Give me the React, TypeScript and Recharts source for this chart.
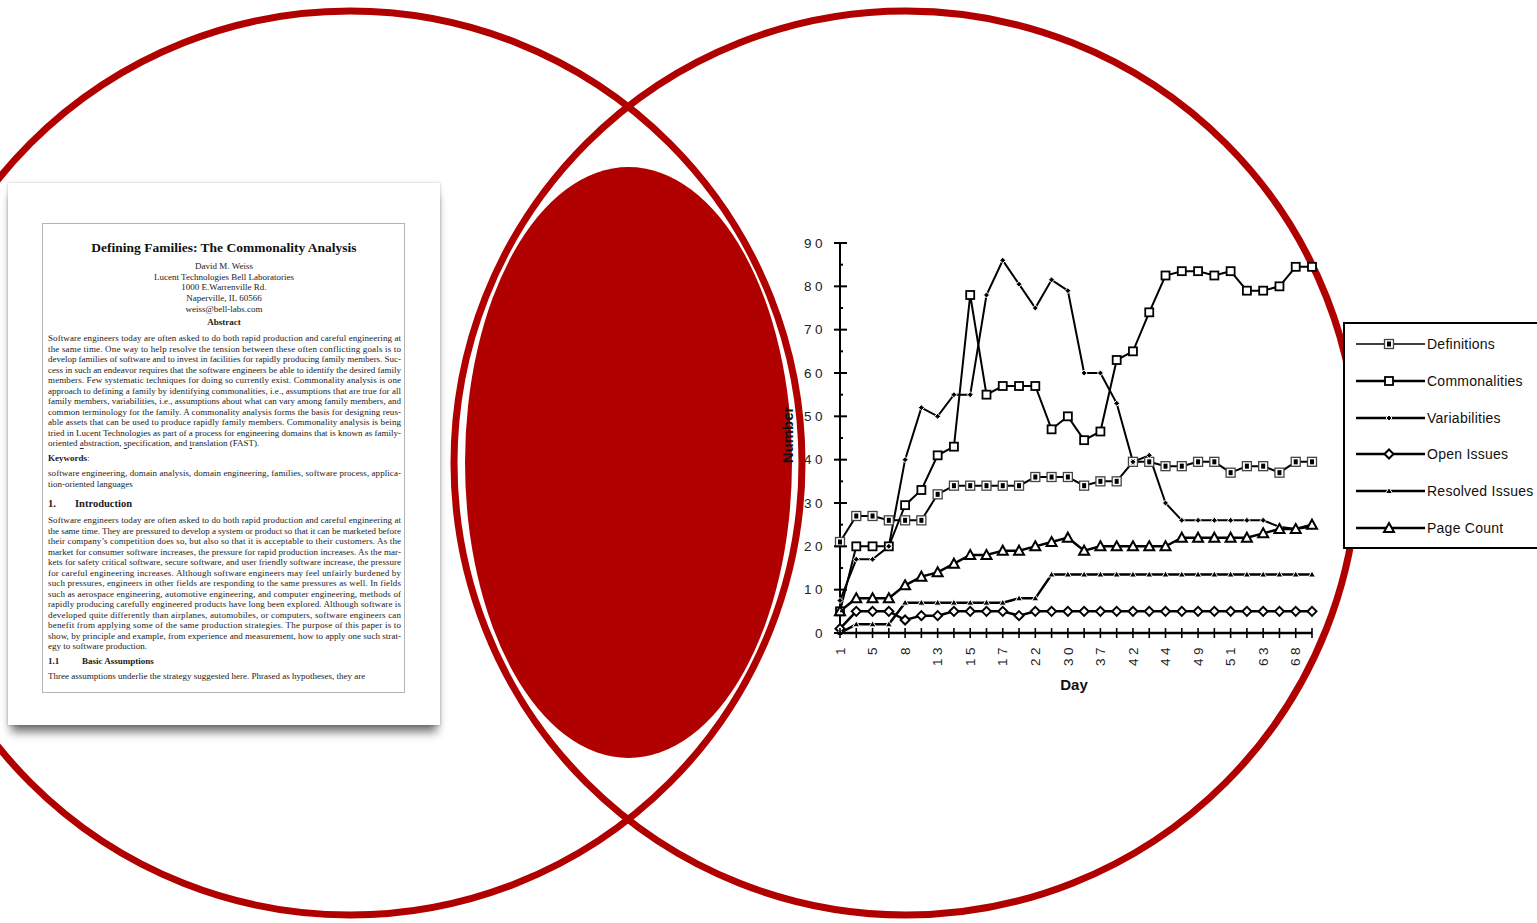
import React from "react";
import { LineChart, Line, XAxis, YAxis, Legend } from "recharts";

// x categories (every second day is labelled on the axis)
const days = [
  "1", "3", "5", "6", "8", "10", "13", "14", "15", "16",
  "17", "20", "22", "28", "30", "35", "37", "40", "42", "43",
  "44", "47", "49", "50", "51", "58", "63", "65", "68", "70",
];

const definitions = [
  21, 27, 27, 26, 26, 26, 32, 34, 34, 34,
  34, 34, 36, 36, 36, 34, 35, 35, 39.5, 39.5,
  38.5, 38.5, 39.5, 39.5, 37, 38.5, 38.5, 37, 39.5, 39.5,
];
const commonalities = [
  5, 20, 20, 20, 29.5, 33, 41, 43, 78, 55,
  57, 57, 57, 47, 50, 44.5, 46.5, 63, 65, 74,
  82.5, 83.5, 83.5, 82.5, 83.5, 79, 79, 80, 84.5, 84.5,
];
const variabilities = [
  7.5, 17, 17, 20, 40, 52, 50, 55, 55, 78,
  86, 80.5, 75, 81.5, 79, 60, 60, 53, 39.5, 41,
  30, 26, 26, 26, 26, 26, 26, 24.5, 24, 24.5,
];
const openIssues = [
  1, 5, 5, 5, 3, 4, 4, 5, 5, 5,
  5, 4, 5, 5, 5, 5, 5, 5, 5, 5,
  5, 5, 5, 5, 5, 5, 5, 5, 5, 5,
];
const resolvedIssues = [
  0, 2, 2, 2, 7, 7, 7, 7, 7, 7,
  7, 8, 8, 13.5, 13.5, 13.5, 13.5, 13.5, 13.5, 13.5,
  13.5, 13.5, 13.5, 13.5, 13.5, 13.5, 13.5, 13.5, 13.5, 13.5,
];
const pageCount = [
  5, 8, 8, 8, 11, 13, 14, 16, 18, 18,
  19, 19, 20, 21, 22, 19, 20, 20, 20, 20,
  20, 22, 22, 22, 22, 22, 23, 24, 24, 25,
];

const yTicks = [0, 5, 10, 15, 20, 25, 30, 35, 40, 45, 50, 55, 60, 65, 70, 75, 80, 85, 90];

const series = [
  { key: "definitions", name: "Definitions", kind: "defs", width: 2, legendWidth: 1.5 },
  { key: "commonalities", name: "Commonalities", kind: "comm", width: 2, legendWidth: 2.5 },
  { key: "variabilities", name: "Variabilities", kind: "var", width: 2, legendWidth: 2.5 },
  { key: "openIssues", name: "Open Issues", kind: "open", width: 2.5, legendWidth: 2.5 },
  { key: "resolvedIssues", name: "Resolved Issues", kind: "res", width: 2.5, legendWidth: 2.5 },
  { key: "pageCount", name: "Page Count", kind: "page", width: 2.5, legendWidth: 2.5 },
];

const data = days.map((day, i) => ({
  day,
  definitions: definitions[i],
  commonalities: commonalities[i],
  variabilities: variabilities[i],
  openIssues: openIssues[i],
  resolvedIssues: resolvedIssues[i],
  pageCount: pageCount[i],
}));

// paper text
const abstractLines = [
  "Software engineers today are often asked to do both rapid production and careful engineering at",
  "the same time. One way to help resolve the tension between these often conflicting goals is to",
  "develop families of software and to invest in facilities for rapidly producing family members. Suc-",
  "cess in such an endeavor requires that the software engineers be able to identify the desired family",
  "members. Few systematic techniques for doing so currently exist. Commonality analysis is one",
  "approach to defining a family by identifying commonalities, i.e., assumptions that are true for all",
  "family members, variabilities, i.e., assumptions about what can vary among family members, and",
  "common terminology for the family. A commonality analysis forms the basis for designing reus-",
  "able assets that can be used to produce rapidly family members. Commonality analysis is being",
  "tried in Lucent Technologies as part of a process for engineering domains that is known as family-",
];
const introLines = [
  "Software engineers today are often asked to do both rapid production and careful engineering at",
  "the same time. They are pressured to develop a system or product so that it can be marketed before",
  "their company\u2019s competition does so, but also so that it is acceptable to their customers. As the",
  "market for consumer software increases, the pressure for rapid production increases. As the mar-",
  "kets for safety critical software, secure software, and user friendly software increase, the pressure",
  "for careful engineering increases. Although software engineers may feel unfairly burdened by",
  "such pressures, engineers in other fields are responding to the same pressures as well. In fields",
  "such as aerospace engineering, automotive engineering, and computer engineering, methods of",
  "rapidly producing carefully engineered products have long been explored. Although software is",
  "developed quite differently than airplanes, automobiles, or computers, software engineers can",
  "benefit from applying some of the same production strategies.  The purpose of this paper is to",
  "show, by principle and example, from experience and measurement, how to apply one such strat-",
];

const RED = "#b00000";
const CHART_LEFT = 760;
const CHART_TOP = 220;
const CHART_W = 777;
const CHART_H = 480;
const MARGIN = { top: 23, right: 225, bottom: 27, left: 30 };
const PLOT_LEFT = MARGIN.left + 50;
const PLOT_BOTTOM = CHART_H - MARGIN.bottom - 40;
const AXIS_FONT = "'Liberation Sans', Arial, sans-serif";
const SERIF = "'Liberation Serif', 'Times New Roman', serif";

function Marker({ kind, cx, cy }: { kind: string; cx: number; cy: number }) {
  switch (kind) {
    case "defs":
      return (
        <g>
          <rect x={cx - 4.5} y={cy - 4.5} width={9} height={9} fill="#fff" stroke="#444" strokeWidth={1.3} />
          <rect x={cx - 2} y={cy - 2.5} width={4} height={5} fill="#000" />
        </g>
      );
    case "comm":
      return <rect x={cx - 4} y={cy - 4} width={8} height={8} fill="#fff" stroke="#000" strokeWidth={1.8} />;
    case "var":
      return (
        <path d={`M${cx},${cy - 3}L${cx + 3},${cy}L${cx},${cy + 3}L${cx - 3},${cy}Z`} fill="#000" stroke="#fff" strokeWidth={1} />
      );
    case "open":
      return (
        <path d={`M${cx},${cy - 4.5}L${cx + 4.5},${cy}L${cx},${cy + 4.5}L${cx - 4.5},${cy}Z`} fill="#fff" stroke="#000" strokeWidth={2} />
      );
    case "res":
      return (
        <path d={`M${cx},${cy - 3.5}L${cx + 3.5},${cy + 2.5}L${cx - 3.5},${cy + 2.5}Z`} fill="#000" stroke="#fff" strokeWidth={1} />
      );
    default:
      return (
        <path d={`M${cx},${cy - 5}L${cx + 5},${cy + 4}L${cx - 5},${cy + 4}Z`} fill="#fff" stroke="#000" strokeWidth={2} strokeLinejoin="miter" />
      );
  }
}

const dotFor = (kind: string) => (p: any) => (
  <g key={`${kind}-${p.index}`}>
    <Marker kind={kind} cx={p.cx} cy={p.cy} />
  </g>
);

const YTick = (props: any) => {
  const { y, payload } = props;
  const v = payload.value;
  const major = v % 10 === 0;
  return (
    <g>
      <line x1={major ? PLOT_LEFT - 6 : PLOT_LEFT} x2={PLOT_LEFT + (major ? 7 : 3)} y1={y} y2={y} stroke="#000" strokeWidth={2} />
      {major && (
        <text x={PLOT_LEFT - 14} y={y} dy="0.35em" textAnchor="end" fontFamily={AXIS_FONT} fontSize={13.5} letterSpacing={3.5} fill="#222">
          {v}
        </text>
      )}
    </g>
  );
};

const XTick = (props: any) => {
  const { x, payload, index } = props;
  return (
    <g>
      <line x1={x} x2={x} y1={PLOT_BOTTOM - 5} y2={PLOT_BOTTOM + 5} stroke="#000" strokeWidth={1.6} />
      {index % 2 === 0 && (
        <text
          transform={`translate(${x},${PLOT_BOTTOM + 11}) rotate(-90)`}
          textAnchor="end"
          dy="0.35em"
          fontFamily={AXIS_FONT}
          fontSize={13.5}
          letterSpacing={3.5}
          fill="#222"
        >
          {payload.value}
        </text>
      )}
    </g>
  );
};

const LegendBox = () => (
  <div
    style={{
      width: 200,
      height: 227,
      border: "2px solid #000",
      background: "#fff",
      boxSizing: "border-box",
      position: "relative",
    }}
  >
    {series.map((s, i) => (
      <div
        key={s.key}
        style={{ position: "absolute", left: 11, top: 20 + i * 36.8 - 10, height: 20, display: "flex", alignItems: "center" }}
      >
        <svg width={71} height={20} style={{ display: "block" }}>
          <line x1={0} x2={69} y1={10} y2={10} stroke="#000" strokeWidth={s.legendWidth} />
          <Marker kind={s.kind} cx={33} cy={10} />
        </svg>
        <span style={{ fontFamily: AXIS_FONT, fontSize: 14, letterSpacing: 0.25, color: "#111", whiteSpace: "nowrap" }}>
          {s.name}
        </span>
      </div>
    ))}
  </div>
);

const Paper = () => {
  const ox = 8;
  const oy = 183;
  const tx = 48 - ox;
  const cx = 224 - ox;
  const W = 353;
  const body = { fontFamily: SERIF, fontSize: 9, fill: "#1a1a1a", dominantBaseline: "central" as const };
  return (
    <div
      style={{
        position: "absolute",
        left: ox,
        top: oy,
        width: 432,
        height: 542,
        background: "#fff",
        boxShadow: "0 10px 9px -3px rgba(0,0,0,0.55), 0 0 3px rgba(0,0,0,0.25)",
      }}
    >
      <div
        style={{
          position: "absolute",
          left: 42 - ox,
          top: 223 - oy,
          width: 363,
          height: 470,
          border: "1px solid #b4b4b4",
          boxSizing: "border-box",
        }}
      />
      <svg width={432} height={542} style={{ position: "absolute", left: 0, top: 0 }}>
        <text x={cx} y={247 - oy} textAnchor="middle" fontFamily={SERIF} fontSize={13.5} fontWeight="bold" dominantBaseline="central" fill="#111">
          Defining Families: The Commonality Analysis
        </text>
        {["David M. Weiss", "Lucent Technologies Bell Laboratories", "1000 E.Warrenville Rd.", "Naperville, IL 60566", "weiss@bell-labs.com"].map(
          (t, i) => (
            <text key={t} x={cx} y={266 + i * 10.7 - oy} textAnchor="middle" {...body}>
              {t}
            </text>
          )
        )}
        <text x={cx} y={322 - oy} textAnchor="middle" {...body} fontWeight="bold">
          Abstract
        </text>
        {abstractLines.map((t, i) => (
          <text key={i} x={tx} y={338 + i * 10.5 - oy} textLength={W} lengthAdjust="spacing" {...body}>
            {t}
          </text>
        ))}
        <text x={tx} y={338 + 10 * 10.5 - oy} {...body}>
          oriented <tspan textDecoration="underline">a</tspan>bstraction, <tspan textDecoration="underline">s</tspan>pecification, and{" "}
          <tspan textDecoration="underline">t</tspan>ranslation (FAST).
        </text>
        <text x={tx} y={458 - oy} {...body}>
          <tspan fontWeight="bold">Keywords</tspan>:
        </text>
        <text x={tx} y={473 - oy} textLength={W} lengthAdjust="spacing" {...body}>
          software engineering, domain analysis, domain engineering, families, software process, applica-
        </text>
        <text x={tx} y={483.5 - oy} {...body}>
          tion-oriented languages
        </text>
        <text x={tx} y={503 - oy} {...body} fontSize={10.5} fontWeight="bold">
          1.
        </text>
        <text x={75 - ox} y={503 - oy} {...body} fontSize={10.5} fontWeight="bold">
          Introduction
        </text>
        {introLines.map((t, i) => (
          <text key={i} x={tx} y={520 + i * 10.5 - oy} textLength={W} lengthAdjust="spacing" {...body}>
            {t}
          </text>
        ))}
        <text x={tx} y={520 + 12 * 10.5 - oy} {...body}>
          egy to software production.
        </text>
        <text x={tx} y={661 - oy} {...body} fontWeight="bold">
          1.1
        </text>
        <text x={82 - ox} y={661 - oy} {...body} fontWeight="bold">
          Basic Assumptions
        </text>
        <text x={tx} y={676 - oy} {...body}>
          Three assumptions underlie the strategy suggested here.  Phrased as hypotheses, they are
        </text>
      </svg>
    </div>
  );
};

export default function App() {
  return (
    <div style={{ position: "absolute", left: 0, top: 0, width: 1537, height: 923, overflow: "hidden", background: "#fff" }}>
      <svg width={1537} height={923} style={{ position: "absolute", left: 0, top: 0 }}>
        <circle cx={350} cy={463} r={452} fill="none" stroke={RED} strokeWidth={7} />
        <circle cx={906} cy={463} r={452} fill="none" stroke={RED} strokeWidth={7} />
        <ellipse cx={628.5} cy={462.5} rx={163.5} ry={295.5} fill={RED} />
      </svg>
      <Paper />
      <div style={{ position: "absolute", left: CHART_LEFT, top: CHART_TOP }}>
        <LineChart width={CHART_W} height={CHART_H} data={data} margin={MARGIN}>
          <XAxis
            dataKey="day"
            interval={0}
            tickLine={false}
            axisLine={{ stroke: "#000", strokeWidth: 2.5 }}
            height={40}
            tick={XTick}
            label={{
              content: () => (
                <text x={314} y={464} textAnchor="middle" dominantBaseline="central" fontFamily={AXIS_FONT} fontSize={15} fontWeight="bold" fill="#111">
                  Day
                </text>
              ),
            }}
          />
          <YAxis
            type="number"
            domain={[0, 90]}
            ticks={yTicks}
            interval={0}
            tickLine={false}
            axisLine={{ stroke: "#000", strokeWidth: 2 }}
            width={50}
            tick={YTick}
            label={{
              content: () => (
                <text
                  x={27}
                  y={215}
                  transform="rotate(-90 27 215)"
                  textAnchor="middle"
                  dominantBaseline="central"
                  fontFamily={AXIS_FONT}
                  fontSize={15}
                  fontWeight="bold"
                  fill="#111"
                >
                  Number
                </text>
              ),
            }}
          />
          <Legend
            layout="horizontal"
            verticalAlign="middle"
            align="center"
            content={() => <LegendBox />}
            wrapperStyle={{ position: "absolute", left: 583, top: 102, width: 200 }}
          />
          {series.map((s) => (
            <Line
              key={s.key}
              type="linear"
              dataKey={s.key}
              name={s.name}
              stroke="#000"
              strokeWidth={s.width}
              dot={dotFor(s.kind)}
              activeDot={false}
              isAnimationActive={false}
            />
          ))}
        </LineChart>
      </div>
    </div>
  );
}
